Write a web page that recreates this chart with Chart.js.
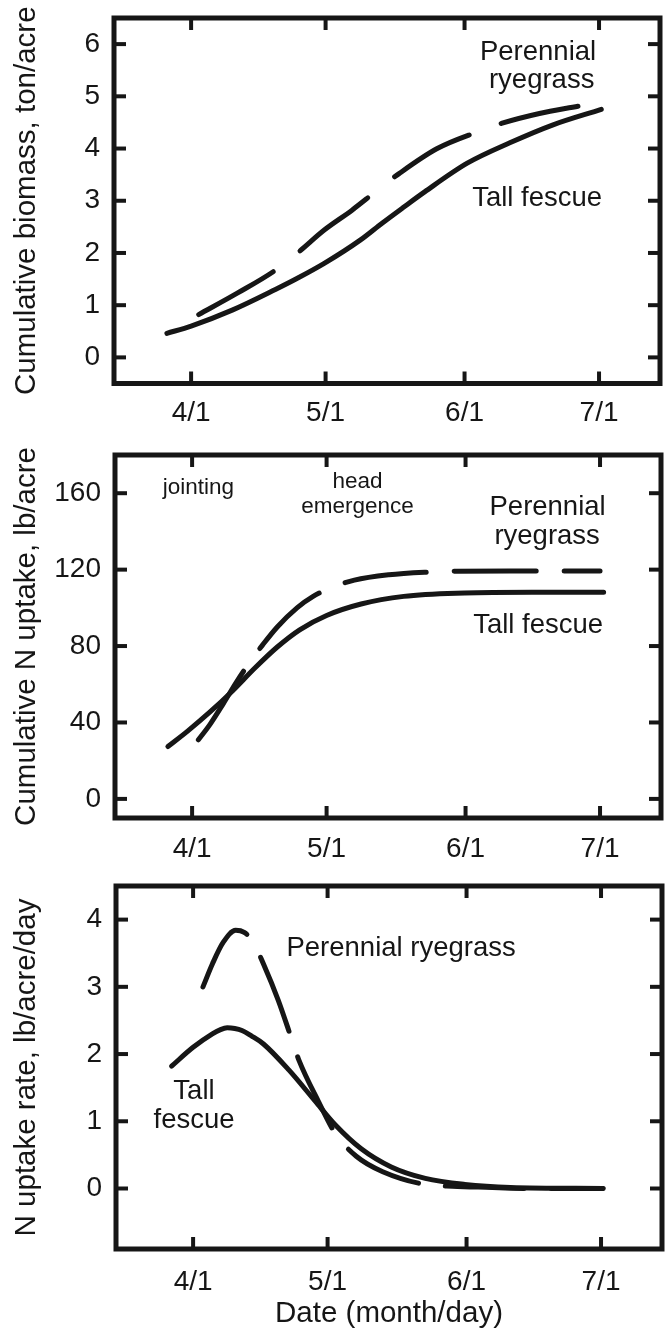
<!DOCTYPE html>
<html><head><meta charset="utf-8">
<script src="https://cdn.jsdelivr.net/npm/chart.js@4.4.0/dist/chart.umd.min.js"></script>
<style>
html,body{margin:0;padding:0;background:#fff;}
body{width:668px;height:1330px;position:relative;overflow:hidden;}
canvas{position:absolute;left:0;}
</style></head><body>
<canvas id="c1" width="668" height="430" style="top:0px"></canvas>
<canvas id="c2" width="668" height="440" style="top:430px"></canvas>
<canvas id="c3" width="668" height="460" style="top:870px"></canvas>
<script>
// ---------- shared axis data ----------
const xTickDays = [91, 121, 152, 182];          // day of year
const xTickLabels = ['4/1', '5/1', '6/1', '7/1'];

// ---------- panel 1: cumulative biomass (ton/acre) ----------
const bioFescueDays = [85.6, 91.0, 100.3, 109.8, 114.6, 120.7, 128.8, 133.6, 138.3, 143.1, 152.6, 162.1, 171.6, 182.5];
const bioFescueVals = [0.46, 0.60, 0.91, 1.30, 1.51, 1.80, 2.25, 2.57, 2.87, 3.17, 3.72, 4.11, 4.45, 4.75];
const bioRyeDays = [92.7, 101.3, 109.8, 115.0, 120.7, 126.9, 132.1, 137.4, 145.9, 154.9, 160.2, 168.7, 177.3];
const bioRyeVals = [0.82, 1.23, 1.67, 2.02, 2.44, 2.82, 3.17, 3.52, 4.00, 4.32, 4.48, 4.67, 4.81];
const bioYTicks = [0, 1, 2, 3, 4, 5, 6];

// ---------- panel 2: cumulative N uptake (lb/acre) ----------
const nFescueDays = [85.6, 90.0, 95.0, 100.0, 105.0, 110.0, 115.0, 121.0, 128.7, 138.2, 151.8, 166.8, 182.8];
const nFescueVals = [27.4, 35.5, 45.5, 56.5, 68.5, 79.5, 88.5, 96.0, 102.0, 106.0, 107.8, 108.2, 108.2];
const nRyeDays = [92.4, 95.0, 98.0, 101.0, 104.0, 106.7, 110.0, 114.4, 118.0, 122.0, 127.2, 134.9, 143.4, 150.0, 165.8, 182.0];
const nRyeVals = [30.9, 39.0, 50.0, 61.5, 72.0, 80.5, 90.0, 100.0, 106.0, 110.5, 114.5, 117.3, 118.7, 119.2, 119.3, 119.3];
const nYTicks = [0, 40, 80, 120, 160];

// ---------- panel 3: N uptake rate (lb/acre/day) ----------
const rFescueDays = [86.2, 91.0, 95.3, 97.0, 98.6, 100.3, 101.9, 104.0, 106.7, 112.4, 118.1, 122.8, 128.5, 135.2, 142.8, 151.6, 161.8, 182.5];
const rFescueVals = [1.82, 2.10, 2.30, 2.36, 2.39, 2.38, 2.35, 2.27, 2.15, 1.76, 1.31, 0.94, 0.59, 0.32, 0.15, 0.06, 0.015, 0.0];
const rRyeDays = [93.2, 95.3, 97.7, 100.5, 102.4, 104.3, 106.7, 110.0, 112.9, 114.6, 119.0, 122.8, 127.4, 133.3, 143.9, 148.9, 165.6, 182.3];
const rRyeVals = [3.00, 3.34, 3.66, 3.84, 3.81, 3.68, 3.34, 2.80, 2.24, 1.91, 1.29, 0.81, 0.48, 0.25, 0.05, 0.035, 0.0, 0.0];
const rYTicks = [0, 1, 2, 3, 4];

// ---------- styling ----------
const FONT = "'Liberation Sans', Arial, Helvetica, sans-serif";
const INK = '#161616';
Chart.defaults.font.family = FONT;
Chart.defaults.color = INK;

const pts = (xs, ys) => xs.map((x, i) => ({x: x, y: ys[i]}));

const framePlugin = {
  id: 'frame',
  afterDraw(chart, args, opts) {
    const {ctx, chartArea: a} = chart;
    const xs = chart.scales.x, ys = chart.scales.y;
    ctx.save();
    ctx.strokeStyle = INK;
    ctx.lineCap = 'butt';
    ctx.lineWidth = 5;
    ctx.strokeRect(a.left, a.top, a.right - a.left, a.bottom - a.top);
    ctx.lineWidth = 4;
    const L = 12;
    const seg = (x1, y1, x2, y2) => { ctx.beginPath(); ctx.moveTo(x1, y1); ctx.lineTo(x2, y2); ctx.stroke(); };
    xs.ticks.forEach(t => {
      const p = xs.getPixelForValue(t.value);
      seg(p, a.bottom, p, a.bottom - L);
      seg(p, a.top, p, a.top + L);
    });
    ys.ticks.forEach(t => {
      const p = ys.getPixelForValue(t.value);
      seg(a.left, p, a.left + L, p);
      seg(a.right, p, a.right - L, p);
    });
    ctx.fillStyle = INK;
    ctx.textAlign = 'center';
    ctx.textBaseline = 'middle';
    (opts.labels || []).forEach(l => {
      ctx.font = l.size + 'px ' + FONT;
      ctx.fillText(l.text, xs.getPixelForValue(l.x), ys.getPixelForValue(l.y));
    });
    ctx.restore();
  }
};

function makeChart(id, cfg) {
  const datasets = [
    {data: pts(cfg.fescueX, cfg.fescueY), borderColor: INK, borderWidth: 5, pointRadius: 0,
     cubicInterpolationMode: 'monotone', borderCapStyle: 'round', borderJoinStyle: 'round', fill: false},
    {data: pts(cfg.ryeX, cfg.ryeY), borderColor: INK, borderWidth: 5, pointRadius: 0,
     cubicInterpolationMode: 'monotone', borderCapStyle: 'round', borderJoinStyle: 'round', fill: false,
     borderDash: cfg.dash}
  ];
  return new Chart(document.getElementById(id), {
    type: 'line',
    data: {datasets},
    plugins: [framePlugin],
    options: {
      responsive: false,
      animation: false,
      events: [],
      layout: {padding: {top: cfg.padTop, right: cfg.padRight, left: 0, bottom: 0}},
      plugins: {legend: {display: false}, tooltip: {enabled: false}, frame: {labels: cfg.labels}},
      scales: {
        x: {
          type: 'linear', position: 'bottom', min: 73.8, max: 195.6,
          afterBuildTicks: s => { s.ticks = xTickDays.map(v => ({value: v})); },
          afterFit: s => { s.height = cfg.xHeight; },
          grid: {display: false, drawTicks: false},
          border: {display: false},
          ticks: {font: {size: 28, lineHeight: 1}, padding: cfg.xPad, maxRotation: 0, autoSkip: false,
                  callback: (v, i) => xTickLabels[i]},
          title: cfg.xTitle ? {display: true, text: cfg.xTitle, font: {size: 29.5, lineHeight: 1},
                               padding: {top: 0, bottom: cfg.xTitlePad}} : {display: false}
        },
        y: {
          type: 'linear', position: 'left', min: cfg.yMin, max: cfg.yMax,
          afterBuildTicks: s => { s.ticks = cfg.yTicks.map(v => ({value: v})); },
          afterFit: s => { s.width = cfg.yWidth; },
          grid: {display: false, drawTicks: true, tickLength: 14},
          border: {display: false},
          ticks: {font: {size: 28, lineHeight: 1}, padding: 0, autoSkip: false, callback: v => String(v)},
          title: {display: true, text: cfg.yTitle, font: {size: 29.5, lineHeight: 1},
                  padding: {top: 12.5, bottom: 0}}
        }
      }
    }
  });
}

makeChart('c1', {
  fescueX: bioFescueDays, fescueY: bioFescueVals, ryeX: bioRyeDays, ryeY: bioRyeVals,
  yMin: -0.5, yMax: 6.5, yTicks: bioYTicks, yTitle: 'Cumulative biomass, ton/acre',
  padTop: 18, padRight: 8, yWidth: 114, xHeight: 46.5, xPad: 15.5, dash: [86, 34],
  labels: [
    {text: 'Perennial', x: 168.4, y: 5.85, size: 27.5},
    {text: 'ryegrass', x: 169.2, y: 5.30, size: 27.5},
    {text: 'Tall fescue', x: 168.2, y: 3.05, size: 27.5}
  ]
});

makeChart('c2', {
  fescueX: nFescueDays, fescueY: nFescueVals, ryeX: nRyeDays, ryeY: nRyeVals,
  yMin: -10, yMax: 180, yTicks: nYTicks, yTitle: 'Cumulative N uptake, lb/acre',
  padTop: 25, padRight: 7, yWidth: 115, xHeight: 52, xPad: 17, dash: [82, 28],
  labels: [
    {text: 'jointing', x: 92.4, y: 162.7, size: 22.5},
    {text: 'head', x: 127.9, y: 166.1, size: 22.5},
    {text: 'emergence', x: 127.9, y: 153.1, size: 22.5},
    {text: 'Perennial', x: 170.3, y: 152.5, size: 27.5},
    {text: 'ryegrass', x: 170.2, y: 137.5, size: 27.5},
    {text: 'Tall fescue', x: 168.2, y: 90.9, size: 27.5}
  ]
});

makeChart('c3', {
  fescueX: rFescueDays, fescueY: rFescueVals, ryeX: rRyeDays, ryeY: rRyeVals,
  yMin: -0.9, yMax: 4.5, yTicks: rYTicks, yTitle: 'N uptake rate, lb/acre/day',
  padTop: 16, padRight: 6, yWidth: 116, xHeight: 81, xPad: 19, dash: [79, 27],
  xTitle: 'Date (month/day)', xTitlePad: 1.5,
  labels: [
    {text: 'Perennial ryegrass', x: 137.4, y: 3.57, size: 27.5},
    {text: 'Tall', x: 91.2, y: 1.45, size: 27.5},
    {text: 'fescue', x: 91.2, y: 1.01, size: 27.5}
  ]
});
</script>
</body></html>
